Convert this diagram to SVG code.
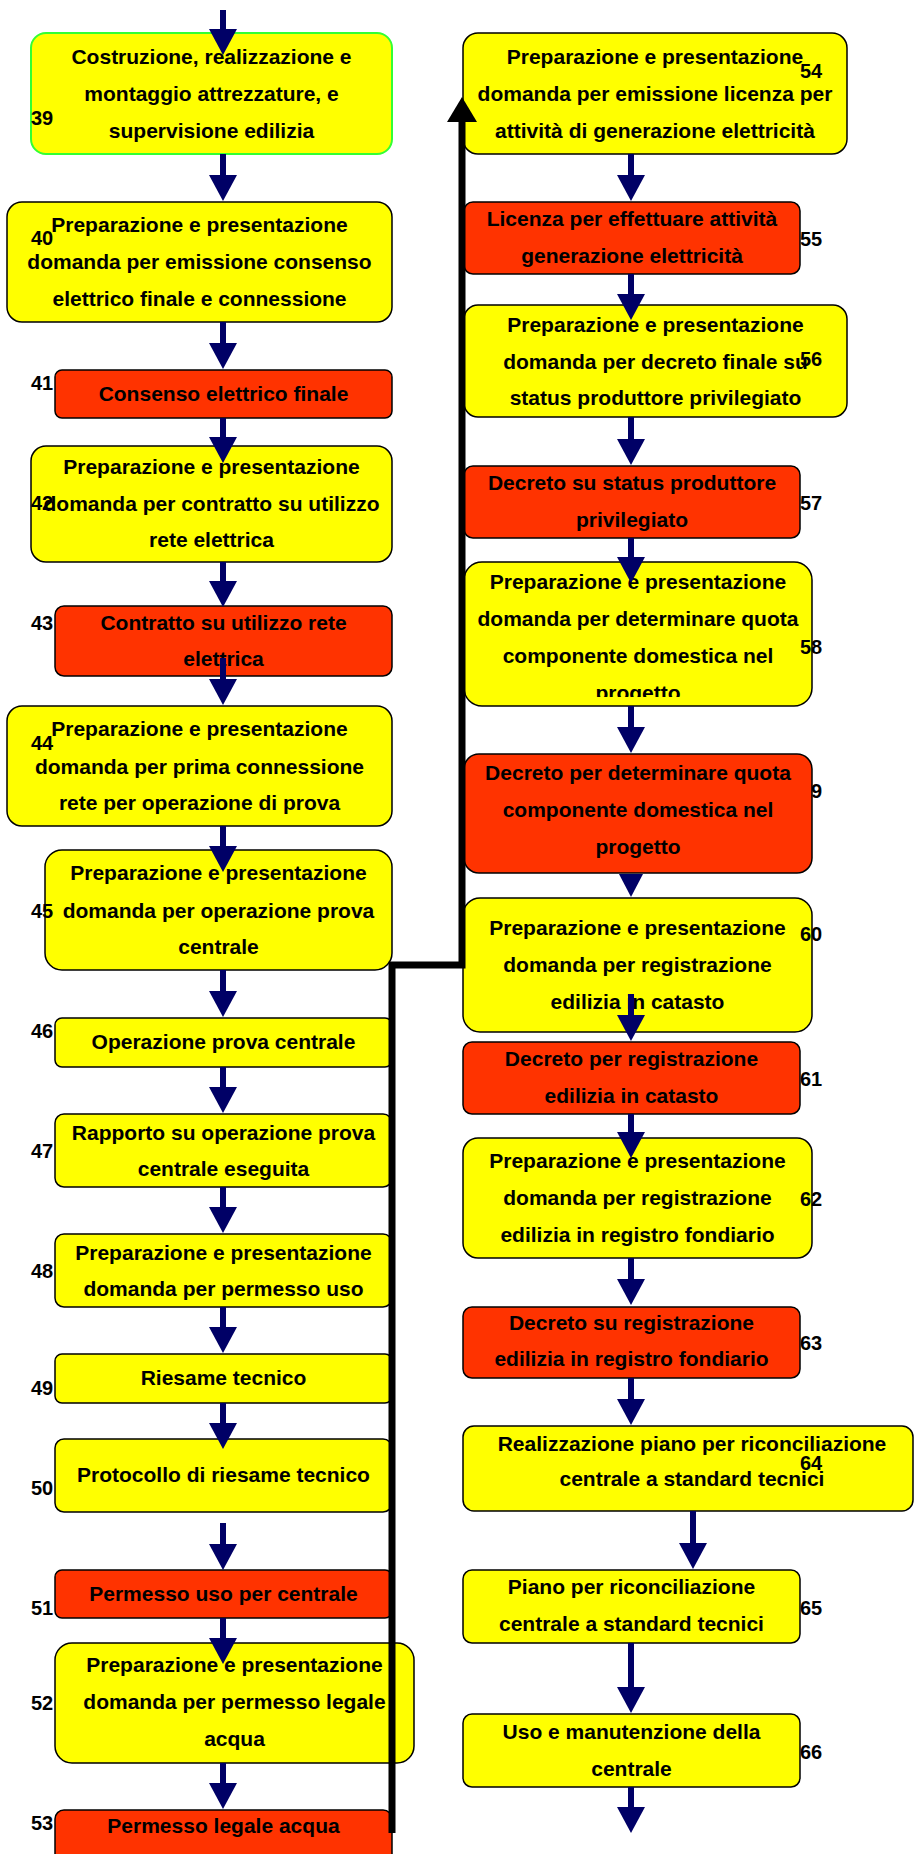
<svg xmlns="http://www.w3.org/2000/svg" width="914" height="1854" viewBox="0 0 914 1854">
<style>
.y{fill:#ffff00;stroke:#000;stroke-width:1.5}
.r{fill:#ff3300;stroke:#000;stroke-width:1.5}
.g{fill:#ffff00;stroke:#33ff33;stroke-width:2}
.t{font-family:"Liberation Sans",Arial,sans-serif;font-weight:bold;font-size:21px;fill:#000;text-anchor:middle}
.n{font-family:"Liberation Sans",Arial,sans-serif;font-weight:bold;font-size:20px;fill:#000}
.a{stroke:#000066;stroke-width:6;fill:none;marker-end:url(#ah)}
</style>
<defs>
<marker id="ah" markerUnits="userSpaceOnUse" markerWidth="26" markerHeight="28" viewBox="0 0 26 28" refX="0" refY="14" orient="auto" overflow="visible">
<path d="M0,0 L26,14 L0,28 Z" fill="#000066"/>
</marker>
<clipPath id="c58"><rect x="464" y="562" width="348" height="135"/></clipPath>
</defs>
<rect width="914" height="1854" fill="#fff"/>

<g id="n39"><rect class="g" x="31" y="33" width="361" height="121" rx="15"/>
<text class="t" x="211.5" y="64">Costruzione, realizzazione e</text>
<text class="t" x="211.5" y="101">montaggio attrezzature, e</text>
<text class="t" x="211.5" y="138">supervisione edilizia</text>
<text class="n" x="31" y="125">39</text></g>

<g id="n40"><rect class="y" x="7" y="202" width="385" height="120" rx="15"/>
<text class="t" x="199.5" y="232">Preparazione e presentazione</text>
<text class="t" x="199.5" y="269">domanda per emissione consenso</text>
<text class="t" x="199.5" y="306">elettrico finale e connessione</text>
<text class="n" x="31" y="245">40</text></g>

<g id="n41"><rect class="r" x="55" y="370" width="337" height="48" rx="7"/>
<text class="t" x="223.5" y="401">Consenso elettrico finale</text>
<text class="n" x="31" y="390">41</text></g>

<g id="n42"><rect class="y" x="31" y="446" width="361" height="116" rx="15"/>
<text class="t" x="211.5" y="474">Preparazione e presentazione</text>
<text class="t" x="211.5" y="511">domanda per contratto su utilizzo</text>
<text class="t" x="211.5" y="547">rete elettrica</text>
<text class="n" x="31" y="510">42</text></g>

<g id="n43"><rect class="r" x="55" y="606" width="337" height="70" rx="9"/>
<text class="t" x="223.5" y="630">Contratto su utilizzo rete</text>
<text class="t" x="223.5" y="666">elettrica</text>
<text class="n" x="31" y="630">43</text></g>

<g id="n44"><rect class="y" x="7" y="706" width="385" height="120" rx="15"/>
<text class="t" x="199.5" y="736">Preparazione e presentazione</text>
<text class="t" x="199.5" y="774">domanda per prima connessione</text>
<text class="t" x="199.5" y="810">rete per operazione di prova</text>
<text class="n" x="31" y="750">44</text></g>

<g id="n45"><rect class="y" x="45" y="850" width="347" height="120" rx="17"/>
<text class="t" x="218.5" y="880">Preparazione e presentazione</text>
<text class="t" x="218.5" y="918">domanda per operazione prova</text>
<text class="t" x="218.5" y="954">centrale</text>
<text class="n" x="31" y="918">45</text></g>

<g id="n46"><rect class="y" x="55" y="1018" width="337" height="49" rx="7"/>
<text class="t" x="223.5" y="1049">Operazione prova centrale</text>
<text class="n" x="31" y="1038">46</text></g>

<g id="n47"><rect class="y" x="55" y="1114" width="337" height="73" rx="9"/>
<text class="t" x="223.5" y="1140">Rapporto su operazione prova</text>
<text class="t" x="223.5" y="1176">centrale eseguita</text>
<text class="n" x="31" y="1158">47</text></g>

<g id="n48"><rect class="y" x="55" y="1234" width="337" height="73" rx="9"/>
<text class="t" x="223.5" y="1260">Preparazione e presentazione</text>
<text class="t" x="223.5" y="1296">domanda per permesso uso</text>
<text class="n" x="31" y="1278">48</text></g>

<g id="n49"><rect class="y" x="55" y="1354" width="337" height="49" rx="7"/>
<text class="t" x="223.5" y="1385">Riesame tecnico</text>
<text class="n" x="31" y="1395">49</text></g>

<g id="n50"><rect class="y" x="55" y="1439" width="337" height="73" rx="9"/>
<text class="t" x="223.5" y="1482">Protocollo di riesame tecnico</text>
<text class="n" x="31" y="1495">50</text></g>

<g id="n51"><rect class="r" x="55" y="1570" width="337" height="48" rx="7"/>
<text class="t" x="223.5" y="1601">Permesso uso per centrale</text>
<text class="n" x="31" y="1615">51</text></g>

<g id="n52"><rect class="y" x="55" y="1643" width="359" height="120" rx="17"/>
<text class="t" x="234.5" y="1672">Preparazione e presentazione</text>
<text class="t" x="234.5" y="1709">domanda per permesso legale</text>
<text class="t" x="234.5" y="1746">acqua</text>
<text class="n" x="31" y="1710">52</text></g>

<g id="n53"><rect class="r" x="55" y="1810" width="337" height="60" rx="9"/>
<text class="t" x="223.5" y="1833">Permesso legale acqua</text>
<text class="n" x="31" y="1830">53</text></g>

<g id="n54"><rect class="y" x="463" y="33" width="384" height="121" rx="15"/>
<text class="t" x="655" y="64">Preparazione e presentazione</text>
<text class="t" x="655" y="101">domanda per emissione licenza per</text>
<text class="t" x="655" y="138">attività di generazione elettricità</text>
<text class="n" x="800" y="78">54</text></g>

<g id="n55"><rect class="r" x="464" y="202" width="336" height="72" rx="9"/>
<text class="t" x="632" y="226">Licenza per effettuare attività</text>
<text class="t" x="632" y="263">generazione elettricità</text>
<text class="n" x="800" y="246">55</text></g>

<g id="n56"><rect class="y" x="464" y="305" width="383" height="112" rx="14"/>
<text class="t" x="655.5" y="332">Preparazione e presentazione</text>
<text class="t" x="655.5" y="369">domanda per decreto finale su</text>
<text class="t" x="655.5" y="405">status produttore privilegiato</text>
<text class="n" x="800" y="366">56</text></g>

<g id="n57"><rect class="r" x="464" y="466" width="336" height="72" rx="9"/>
<text class="t" x="632" y="490">Decreto su status produttore</text>
<text class="t" x="632" y="527">privilegiato</text>
<text class="n" x="800" y="510">57</text></g>

<g id="n58"><rect class="y" x="464" y="562" width="348" height="144" rx="18"/>
<g clip-path="url(#c58)">
<text class="t" x="638" y="589">Preparazione e presentazione</text>
<text class="t" x="638" y="626">domanda per determinare quota</text>
<text class="t" x="638" y="663">componente domestica nel</text>
<text class="t" x="638" y="700">progetto</text></g>
<text class="n" x="800" y="654">58</text></g>

<g id="n59"><text class="n" x="800" y="798">59</text>
<rect class="r" x="464" y="754" width="348" height="119" rx="15"/>
<text class="t" x="638" y="780">Decreto per determinare quota</text>
<text class="t" x="638" y="817">componente domestica nel</text>
<text class="t" x="638" y="854">progetto</text></g>

<g id="n60"><rect class="y" x="463" y="898" width="349" height="134" rx="17"/>
<text class="t" x="637.5" y="935">Preparazione e presentazione</text>
<text class="t" x="637.5" y="972">domanda per registrazione</text>
<text class="t" x="637.5" y="1009">edilizia in catasto</text>
<text class="n" x="800" y="941">60</text></g>

<g id="n61"><rect class="r" x="463" y="1042" width="337" height="72" rx="9"/>
<text class="t" x="631.5" y="1066">Decreto per registrazione</text>
<text class="t" x="631.5" y="1103">edilizia in catasto</text>
<text class="n" x="800" y="1086">61</text></g>

<g id="n62"><rect class="y" x="463" y="1138" width="349" height="120" rx="15"/>
<text class="t" x="637.5" y="1168">Preparazione e presentazione</text>
<text class="t" x="637.5" y="1205">domanda per registrazione</text>
<text class="t" x="637.5" y="1242">edilizia in registro fondiario</text>
<text class="n" x="800" y="1206">62</text></g>

<g id="n63"><rect class="r" x="463" y="1307" width="337" height="71" rx="9"/>
<text class="t" x="631.5" y="1330">Decreto su registrazione</text>
<text class="t" x="631.5" y="1366">edilizia in registro fondiario</text>
<text class="n" x="800" y="1350">63</text></g>

<g id="n64"><rect class="y" x="463" y="1426" width="450" height="85" rx="11"/>
<text class="t" x="692" y="1451">Realizzazione piano per riconciliazione</text>
<text class="t" x="692" y="1486">centrale a standard tecnici</text>
<text class="n" x="800" y="1470">64</text></g>

<g id="n65"><rect class="y" x="463" y="1570" width="337" height="73" rx="9"/>
<text class="t" x="631.5" y="1594">Piano per riconciliazione</text>
<text class="t" x="631.5" y="1631">centrale a standard tecnici</text>
<text class="n" x="800" y="1615">65</text></g>

<g id="n66"><rect class="y" x="463" y="1714" width="337" height="73" rx="9"/>
<text class="t" x="631.5" y="1739">Uso e manutenzione della</text>
<text class="t" x="631.5" y="1776">centrale</text>
<text class="n" x="800" y="1759">66</text></g>

<g id="connectors">
<line class="a" x1="223" y1="10" x2="223" y2="29"/>
<line class="a" x1="223" y1="154" x2="223" y2="175"/>
<line class="a" x1="223" y1="322" x2="223" y2="343"/>
<line class="a" x1="223" y1="418" x2="223" y2="437"/>
<line class="a" x1="223" y1="562" x2="223" y2="581"/>
<line class="a" x1="223" y1="658" x2="223" y2="679"/>
<line class="a" x1="223" y1="826" x2="223" y2="846"/>
<line class="a" x1="223" y1="970" x2="223" y2="991"/>
<line class="a" x1="223" y1="1067" x2="223" y2="1087"/>
<line class="a" x1="223" y1="1187" x2="223" y2="1207"/>
<line class="a" x1="223" y1="1307" x2="223" y2="1327"/>
<line class="a" x1="223" y1="1403" x2="223" y2="1423"/>
<line class="a" x1="223" y1="1523" x2="223" y2="1544"/>
<line class="a" x1="223" y1="1618" x2="223" y2="1638"/>
<line class="a" x1="223" y1="1763" x2="223" y2="1783"/>
<line class="a" x1="631" y1="154" x2="631" y2="175"/>
<line class="a" x1="631" y1="274" x2="631" y2="294"/>
<line class="a" x1="631" y1="417" x2="631" y2="439"/>
<line class="a" x1="631" y1="538" x2="631" y2="557"/>
<line class="a" x1="631" y1="706" x2="631" y2="727"/>
<polygon points="619,874 643,874 631,897" fill="#000066"/>
<line class="a" x1="631" y1="994" x2="631" y2="1015"/>
<line class="a" x1="631" y1="1114" x2="631" y2="1132"/>
<line class="a" x1="631" y1="1258" x2="631" y2="1279"/>
<line class="a" x1="631" y1="1378" x2="631" y2="1399"/>
<line class="a" x1="693" y1="1511" x2="693" y2="1543"/>
<line class="a" x1="631" y1="1643" x2="631" y2="1687"/>
<line class="a" x1="631" y1="1787" x2="631" y2="1807"/>
<path d="M392,1833 V965 H462 V120" fill="none" stroke="#000" stroke-width="7"/>
<polygon points="447,122 477,122 462,97" fill="#000"/>
</g>
</svg>
